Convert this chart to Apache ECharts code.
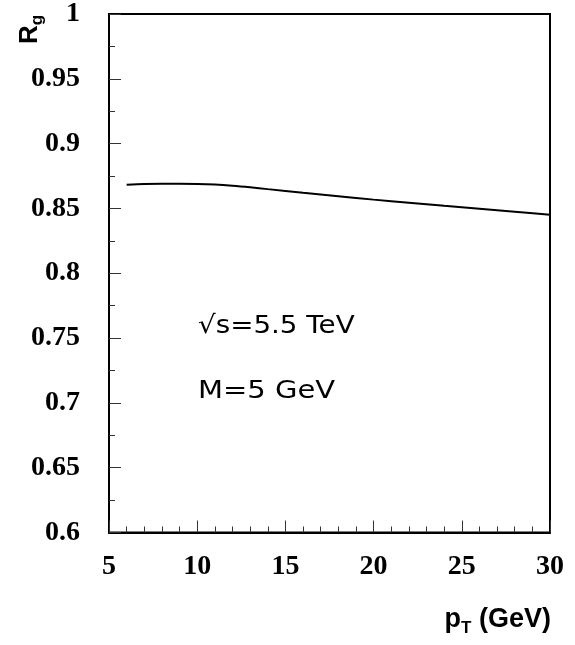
<!DOCTYPE html>
<html>
<head>
<meta charset="utf-8">
<script src="https://cdn.jsdelivr.net/npm/echarts@6/dist/echarts.min.js"></script>
<style>html,body{margin:0;padding:0;background:#fff}#c{width:575px;height:645px}</style>
</head>
<body>
<div id="c"></div>
<script>
const ptValues = [6, 7, 8, 9, 10, 11, 12, 13, 14, 16, 18, 20, 22, 24, 26, 28, 30];
const rgValues = [0.8683, 0.8689, 0.8691, 0.8691, 0.8689, 0.8684, 0.8675, 0.8663, 0.8649, 0.8621, 0.8594, 0.8568, 0.8544, 0.8520, 0.8497, 0.8474, 0.8452];
const annotations = ['√s=5.5 TeV', 'M=5 GeV'];
const xTitle = ['p', 'T', ' (GeV)'];
const yTitle = ['R', 'g'];

const chart = echarts.init(document.getElementById('c'), null, {renderer: 'canvas'});
const labelFont = {fontFamily: 'Liberation Serif', fontWeight: 'bold', fontSize: 28, color: '#000'};
chart.setOption({
  animation: false,
  backgroundColor: '#fff',
  grid: {left: 109, top: 11, right: 25, bottom: 112.5, show: true, borderColor: '#000', borderWidth: 2, backgroundColor: 'transparent'},
  xAxis: {
    type: 'value', min: 5, max: 30, interval: 5,
    axisLine: {show: true, lineStyle: {color: '#000', width: 2}},
    axisTick: {show: true, inside: true, length: 12, lineStyle: {color: '#333', width: 1}},
    minorTick: {show: true, splitNumber: 5, length: 6, lineStyle: {color: '#333', width: 1}},
    splitLine: {show: false},
    axisLabel: Object.assign({margin: 20}, labelFont)
  },
  yAxis: {
    type: 'value', min: 0.6, max: 1, interval: 0.05,
    axisLine: {show: true, lineStyle: {color: '#000', width: 2}},
    axisTick: {show: true, inside: true, length: 12, lineStyle: {color: '#333', width: 1}},
    minorTick: {show: true, splitNumber: 2, length: 6, lineStyle: {color: '#333', width: 1}},
    splitLine: {show: false},
    axisLabel: Object.assign({margin: 29, formatter: v => String(+v.toFixed(2))}, labelFont)
  },
  series: [{
    type: 'line',
    data: ptValues.map((x, i) => [x, rgValues[i]]),
    smooth: 0.3,
    showSymbol: false,
    lineStyle: {color: '#000', width: 2}
  }],
  graphic: [
    {type: 'text', x: 198, y: 326, scaleX: 1.11, style: {text: annotations[0], font: '25px "DejaVu Sans"', fill: '#000', textVerticalAlign: 'middle'}},
    {type: 'text', x: 198, y: 391, scaleX: 1.16, style: {text: annotations[1], font: '25px "DejaVu Sans"', fill: '#000', textVerticalAlign: 'middle'}},
    {type: 'text', x: 551, y: 620, style: {
      text: '{a|' + xTitle[0] + '}{b|' + xTitle[1] + '}{a|' + xTitle[2] + '}',
      align: 'right', verticalAlign: 'middle',
      rich: {
        a: {fontFamily: 'Liberation Sans', fontWeight: 'bold', fontSize: 27, fill: '#000'},
        b: {fontFamily: 'Liberation Sans', fontWeight: 'bold', fontSize: 17, fill: '#000', padding: [16, 0, 0, 0]}
      }}},
    {type: 'text', x: 30, y: 44, rotation: Math.PI / 2, style: {
      text: '{a|' + yTitle[0] + '}{b|' + yTitle[1] + '}',
      align: 'left', verticalAlign: 'middle',
      rich: {
        a: {fontFamily: 'Liberation Sans', fontWeight: 'bold', fontSize: 26, fill: '#000'},
        b: {fontFamily: 'Liberation Sans', fontWeight: 'bold', fontSize: 17, fill: '#000', padding: [14, 0, 0, 0]}
      }}}
  ]
});
</script>
</body>
</html>
